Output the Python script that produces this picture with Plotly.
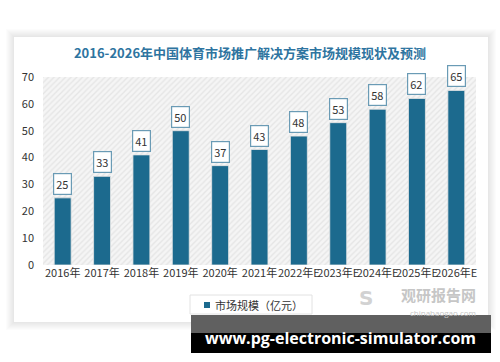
import plotly.graph_objects as go

categories = ["2016年", "2017年", "2018年", "2019年", "2020年", "2021年",
              "2022年E", "2023年E", "2024年E", "2025年E", "2026年E"]
values = [25, 33, 41, 50, 37, 43, 48, 53, 58, 62, 65]
series_name = "市场规模（亿元）"
title_text = "2016-2026年中国体育市场推广解决方案市场规模现状及预测"
y_ticks = [0, 10, 20, 30, 40, 50, 60, 70]

W, H = 500, 362
L, R, T, B = 43, 24, 77, 97
CJK = "Noto Sans CJK SC"
BAR = "#1c6a8e"


def px_x(x):
    return (x - L) / (W - L - R)


def px_y(y):
    return (H - B - y) / (H - T - B)


fig = go.Figure()

# hatched plot background on hidden axis x
fig.add_trace(go.Bar(
    x=[0.5], y=[70], width=[1], xaxis="x", yaxis="y",
    marker=dict(color="#f3f3f3", line=dict(width=0),
                pattern=dict(shape="/", fgcolor="#d6d6d6", bgcolor="#f5f5f5", size=4, solidity=0.35)),
    showlegend=False, hoverinfo="skip"))

# main bars on categorical overlay axis
fig.add_trace(go.Bar(
    x=categories, y=values, xaxis="x2", yaxis="y", name=series_name,
    width=0.43, marker=dict(color=BAR, line=dict(width=0.8, color="#e6e6e6")),
    showlegend=False))

for c, v in zip(categories, values):
    fig.add_annotation(
        x=c, y=v, xref="x2", yref="y", text=str(v), showarrow=False,
        yanchor="bottom", yshift=3,
        font=dict(family=CJK, size=11, color="#333333"),
        bgcolor="white", bordercolor="#6a9bb5", borderwidth=1.2, borderpad=2)

shapes = []
# card + soft shadow
for d in range(8, 0, -1):
    shapes.append(dict(type="rect", xref="paper", yref="paper",
                       x0=px_x(14 - d), x1=px_x(488 + d),
                       y0=px_y(322 + d), y1=px_y(37 - d),
                       fillcolor="rgba(0,0,0,0.012)", line=dict(width=0), layer="below"))
shapes.append(dict(type="rect", xref="paper", yref="paper",
                   x0=px_x(14), x1=px_x(488), y0=px_y(322), y1=px_y(37),
                   fillcolor="white", line=dict(width=0), layer="below"))

# manual legend
shapes.append(dict(type="rect", xref="paper", yref="paper",
                   x0=px_x(190), x1=px_x(312), y0=px_y(314), y1=px_y(295),
                   fillcolor="white", line=dict(width=1, color="#e2e2e2"), layer="above"))
shapes.append(dict(type="rect", xref="paper", yref="paper",
                   x0=px_x(204), x1=px_x(210), y0=px_y(308), y1=px_y(302),
                   fillcolor=BAR, line=dict(width=0), layer="above"))

# watermark banner
shapes.append(dict(type="rect", xref="paper", yref="paper",
                   x0=px_x(191), x1=px_x(491), y0=px_y(353), y1=px_y(315),
                   fillcolor="#000000", line=dict(width=0), layer="above"))
shapes.append(dict(type="rect", xref="paper", yref="paper",
                   x0=px_x(191), x1=px_x(491), y0=px_y(333), y1=px_y(315),
                   fillcolor="#606060", line=dict(width=0), layer="above"))
fig.update_layout(shapes=shapes)

fig.add_annotation(xref="paper", yref="paper", x=px_x(213), y=px_y(305),
                   text=series_name, showarrow=False,
                   font=dict(family=CJK, size=11, color="#333333"),
                   xanchor="left", yanchor="middle")

fig.add_annotation(xref="paper", yref="paper", x=px_x(340), y=px_y(338),
                   text="<b>www.pg-electronic-simulator.com</b>", showarrow=False,
                   font=dict(family="Open Sans", size=16, color="white"),
                   xanchor="center", yanchor="middle")

# logo
fig.add_annotation(xref="paper", yref="paper", x=px_x(477), y=px_y(294),
                   text="<b>观研报告网</b>", showarrow=False,
                   font=dict(family=CJK, size=15, color="#c6c6c6"),
                   xanchor="right", yanchor="middle", borderpad=0)
fig.add_annotation(xref="paper", yref="paper", x=px_x(477), y=px_y(312),
                   text="chinabaogao.com", showarrow=False,
                   font=dict(family="Open Sans", size=8, color="#c6c6c6"),
                   xanchor="right", yanchor="middle", borderpad=0)
fig.add_annotation(xref="paper", yref="paper", x=px_x(366), y=px_y(298),
                   text="<b>S</b>", showarrow=False,
                   font=dict(family="DejaVu Sans", size=20, color="#d2d2d2"),
                   xanchor="center", yanchor="middle")

fig.update_layout(
    width=W, height=H,
    margin=dict(l=L, r=R, t=T, b=B, autoexpand=False),
    paper_bgcolor="white", plot_bgcolor="rgba(0,0,0,0)",
    title=dict(text=f"<b>{title_text}</b>", x=250 / W, xanchor="center",
               y=1 - 53 / H, yanchor="middle",
               font=dict(family=CJK, size=13, color="#2e74a0")),
    xaxis=dict(range=[0, 1], visible=False, fixedrange=True),
    xaxis2=dict(overlaying="x", side="bottom", type="category",
                tickangle=0, showgrid=False, showline=False, ticks="",
                tickfont=dict(family=CJK, size=11, color="#333333"),
                range=[-0.5, len(categories) - 0.5]),
    yaxis=dict(range=[0, 70], tickvals=y_ticks, showgrid=False, zeroline=False,
               showline=False, ticks="", ticklabelstandoff=8,
               tickfont=dict(family=CJK, size=11, color="#333333")),
    barmode="overlay",
    showlegend=False,
)

fig.write_html("out.html", config={"displayModeBar": False},
               post_script="document.body.style.margin='0';document.body.style.overflow='hidden';")
